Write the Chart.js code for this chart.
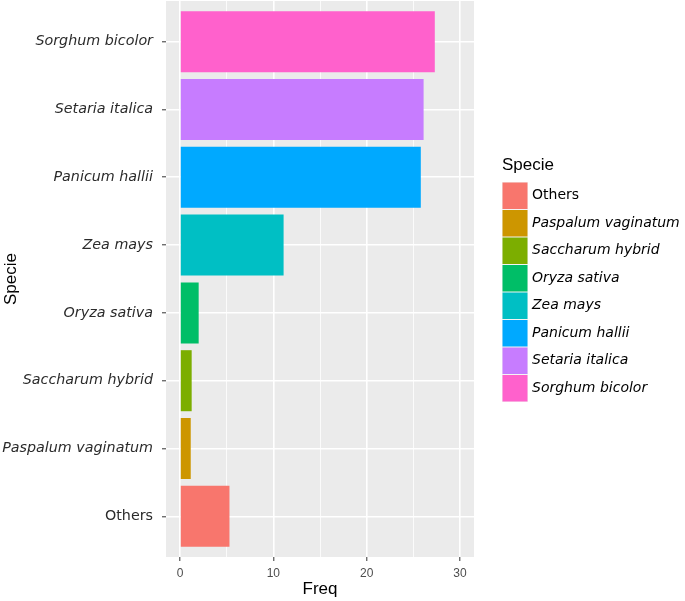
<!DOCTYPE html>
<html>
<head>
<meta charset="utf-8">
<script src="https://cdn.jsdelivr.net/npm/chart.js@4"></script>
<style>
  html, body { margin: 0; padding: 0; background: #fff; }
  #wrap { width: 685px; height: 601px; }
</style>
</head>
<body>
<div id="wrap"><canvas id="chart" width="685" height="601"></canvas></div>
<script>
// categories top to bottom, as in the plot
const species = ['Sorghum bicolor', 'Setaria italica', 'Panicum hallii', 'Zea mays',
    'Oryza sativa', 'Saccharum hybrid', 'Paspalum vaginatum', 'Others'];
const freq = [27.3, 26.1, 25.8, 11.1, 2.0, 1.25, 1.15, 5.3];
const colors = ['#FF61CC', '#C77CFF', '#00A9FF', '#00BFC4', '#00BE67', '#7CAE00', '#CD9600', '#F8766D'];
const xTicks = [0, 5, 10, 15, 20, 25, 30];

const isItalic = (name) => name !== 'Others';

// grey panel behind the plot area
const panelBg = {
    id: 'panelBg',
    beforeDraw(chart) {
        const { ctx, chartArea: a } = chart;
        ctx.save();
        ctx.fillStyle = '#EBEBEB';
        ctx.fillRect(a.left, a.top, a.right - a.left, a.bottom - a.top);
        ctx.restore();
    }
};

// ggplot-like legend on the right, Others first
const sideLegend = {
    id: 'sideLegend',
    afterDraw(chart) {
        const ctx = chart.ctx;
        const x0 = 502, y0 = 182, kw = 26, kh = 27.5;
        ctx.save();
        ctx.fillStyle = '#000';
        ctx.font = '17px "Liberation Sans", Arial, sans-serif';
        ctx.textBaseline = 'middle';
        ctx.textAlign = 'left';
        ctx.fillText('Specie', x0, 165);
        const order = species.map((s, i) => i).reverse();
        order.forEach((idx, k) => {
            const y = y0 + k * kh;
            ctx.fillStyle = '#F2F2F2';
            ctx.fillRect(x0, y, kw, kh);
            ctx.fillStyle = colors[idx];
            ctx.fillRect(x0 + 0.5, y + 0.5, kw - 1, kh - 1);
            ctx.fillStyle = '#000';
            ctx.font = (isItalic(species[idx]) ? 'italic ' : '') + '14px "DejaVu Sans", Verdana, sans-serif';
            ctx.fillText(species[idx], x0 + 30, y + kh / 2);
        });
        ctx.restore();
    }
};

const ctx = document.getElementById('chart').getContext('2d');
new Chart(ctx, {
    type: 'bar',
    data: {
        datasets: [{
            data: freq.map((v, i) => ({ x: v, y: i })),
            backgroundColor: colors,
            borderWidth: 0,
            barPercentage: 0.9,
            categoryPercentage: 1.0
        }]
    },
    options: {
        indexAxis: 'y',
        responsive: false,
        animation: false,
        layout: { padding: { left: 0, right: 211, top: 1, bottom: 0 } },
        plugins: {
            legend: { display: false },
            tooltip: { enabled: false }
        },
        scales: {
            x: {
                type: 'linear',
                min: -1.5,
                max: 31.5,
                afterBuildTicks: (axis) => { axis.ticks = xTicks.map(v => ({ value: v })); },
                afterFit: (axis) => {
                    axis.height = 44;
                    axis.paddingLeft = 0;
                    axis.paddingRight = 0;
                },
                border: { display: false },
                grid: {
                    color: '#FFFFFF',
                    lineWidth: (c) => (c.tick && c.tick.value % 10 === 0) ? 1.6 : 0.8,
                    tickColor: (c) => (c.tick && c.tick.value % 10 === 0) ? '#333333' : 'rgba(0,0,0,0)',
                    tickWidth: 1,
                    tickLength: 4
                },
                ticks: {
                    color: '#4D4D4D',
                    padding: 5,
                    maxRotation: 0,
                    font: { family: '"Liberation Sans", Arial, sans-serif', size: 12 },
                    callback: (v) => (v % 10 === 0 ? String(v) : '')
                },
                title: {
                    display: true,
                    text: 'Freq',
                    color: '#000',
                    font: { family: '"Liberation Sans", Arial, sans-serif', size: 17 },
                    padding: { top: 0, bottom: 1 }
                }
            },
            y: {
                type: 'linear',
                reverse: true,
                offset: false,
                min: -0.6,
                max: 7.6,
                afterBuildTicks: (axis) => { axis.ticks = species.map((s, i) => ({ value: i })); },
                afterFit: (axis) => {
                    axis.width = 166;
                    axis.paddingTop = 0;
                    axis.paddingBottom = 0;
                },
                border: { display: false },
                grid: {
                    offset: false,
                    color: '#FFFFFF',
                    lineWidth: 1.6,
                    tickColor: '#333333',
                    tickWidth: 1,
                    tickLength: 4
                },
                ticks: {
                    color: '#2B2B2B',
                    padding: 9,
                    font: (c) => ({
                        family: '"DejaVu Sans", Verdana, sans-serif',
                        size: 14.3,
                        style: (c.tick && isItalic(species[c.tick.value])) ? 'italic' : 'normal'
                    }),
                    callback: (v) => species[v]
                },
                title: {
                    display: true,
                    text: 'Specie',
                    color: '#000',
                    font: { family: '"Liberation Sans", Arial, sans-serif', size: 17 },
                    padding: { top: 1, bottom: 0 }
                }
            }
        }
    },
    plugins: [panelBg, sideLegend]
});
</script>
</body>
</html>
